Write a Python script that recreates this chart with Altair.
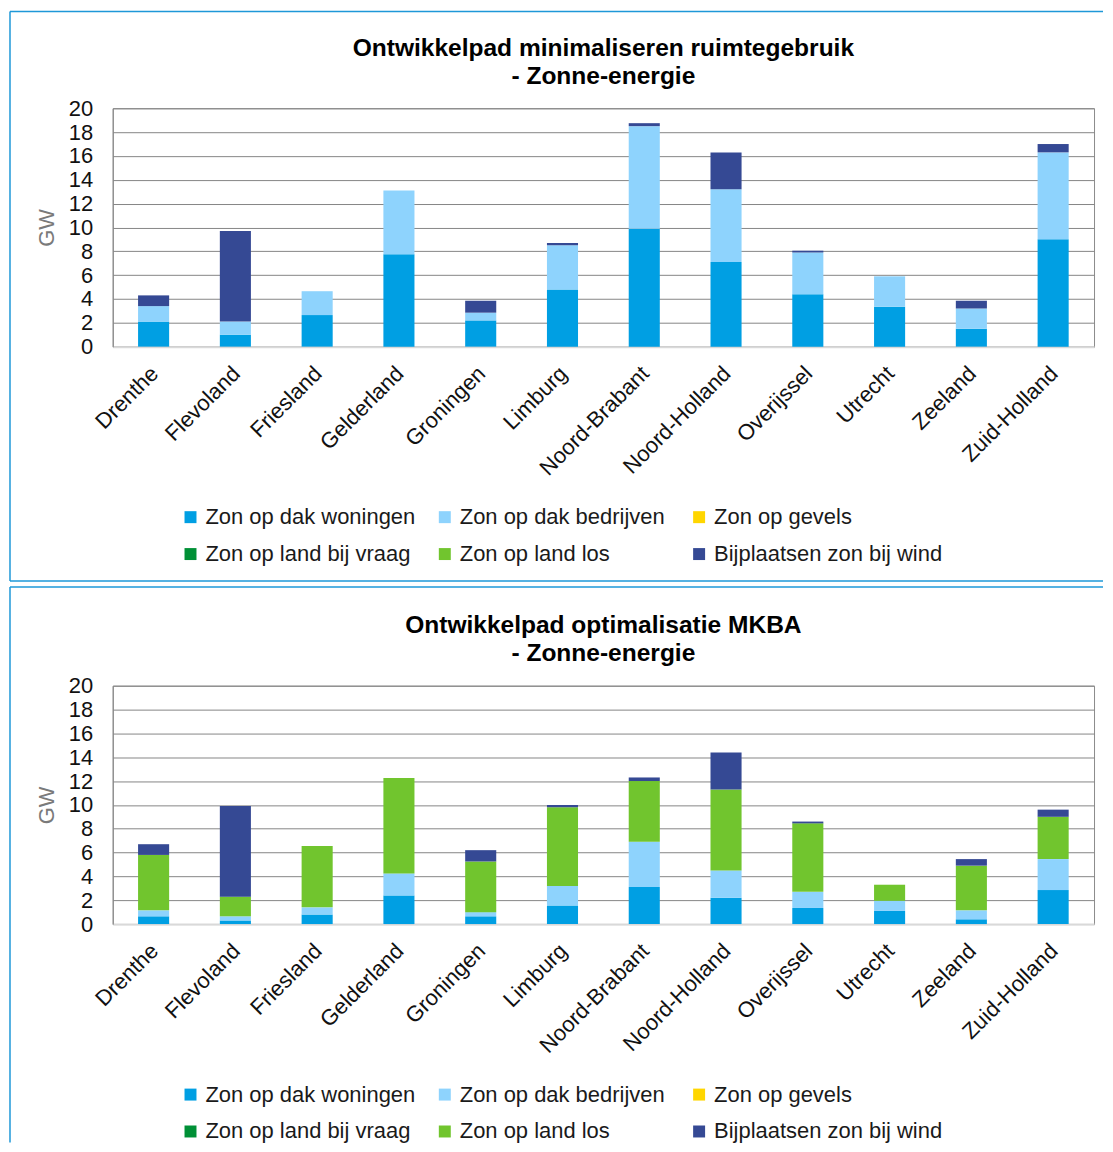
import altair as alt
import pandas as pd

provinces = ["Drenthe", "Flevoland", "Friesland", "Gelderland", "Groningen", "Limburg",
             "Noord-Brabant", "Noord-Holland", "Overijssel", "Utrecht", "Zeeland", "Zuid-Holland"]

series = ["Zon op dak woningen", "Zon op dak bedrijven", "Zon op gevels",
          "Zon op land bij vraag", "Zon op land los", "Bijplaatsen zon bij wind"]
colors = ["#009FE3", "#8ED3FD", "#FFD600", "#009036", "#71C52E", "#354994"]

y_ticks = [0, 2, 4, 6, 8, 10, 12, 14, 16, 18, 20]

# Panel 1: Ontwikkelpad minimaliseren ruimtegebruik (GW)
a_woningen = [2.1, 1.0, 2.65, 7.75, 2.2, 4.8, 9.9, 7.1, 4.4, 3.35, 1.5, 9.0]
a_bedrijven = [1.3, 1.1, 2.0, 5.35, 0.65, 3.7, 8.6, 6.1, 3.5, 2.55, 1.7, 7.3]
a_gevels = [0, 0, 0, 0, 0, 0, 0, 0, 0, 0, 0, 0]
a_vraag = [0, 0, 0, 0, 0, 0, 0, 0, 0, 0, 0, 0]
a_los = [0, 0, 0, 0, 0, 0, 0, 0, 0, 0, 0, 0]
a_wind = [0.9, 7.6, 0, 0, 1.0, 0.2, 0.25, 3.1, 0.15, 0, 0.65, 0.7]

# Panel 2: Ontwikkelpad optimalisatie MKBA (GW)
b_woningen = [0.65, 0.3, 0.8, 2.4, 0.65, 1.55, 3.1, 2.2, 1.35, 1.1, 0.4, 2.85]
b_bedrijven = [0.5, 0.35, 0.6, 1.85, 0.35, 1.65, 3.8, 2.3, 1.35, 0.85, 0.75, 2.6]
b_gevels = [0, 0, 0, 0, 0, 0, 0, 0, 0, 0, 0, 0]
b_vraag = [0, 0, 0, 0, 0, 0, 0, 0, 0, 0, 0, 0]
b_los = [4.65, 1.65, 5.15, 8.0, 4.25, 6.6, 5.1, 6.8, 5.75, 1.35, 3.75, 3.55]
b_wind = [0.9, 7.6, 0, 0, 0.95, 0.2, 0.3, 3.1, 0.15, 0, 0.55, 0.6]

title_a = ["Ontwikkelpad minimaliseren ruimtegebruik", "- Zonne-energie"]
title_b = ["Ontwikkelpad optimalisatie MKBA", "- Zonne-energie"]

FONT = "Liberation Sans"
BORDER = "#1E98D8"
W, H = 984, 239


def long_table(cols):
    rows = []
    for k, (s, vals) in enumerate(zip(series, cols)):
        for p, v in zip(provinces, vals):
            rows.append({"prov": p, "serie": s, "gw": v, "k": k})
    return pd.DataFrame(rows)


def panel(df, title, first):
    top_y = -97 if first else -99
    bars = alt.Chart(df).mark_bar(strokeWidth=0).encode(
        x=alt.X("prov:N", sort=provinces,
                scale=alt.Scale(paddingInner=0.62, paddingOuter=0.31),
                axis=alt.Axis(title=None, labelAngle=-45, labelAlign="right",
                              labelBaseline="middle", labelFontSize=22, labelFont=FONT,
                              labelColor="#111111", labelPadding=23, labelOffset=1,
                              ticks=False, tickSize=0, domainColor="#D9D9D9",
                              domainWidth=2, grid=False)),
        y=alt.Y("gw:Q", stack="zero",
                scale=alt.Scale(domain=[0, 20], nice=False),
                axis=alt.Axis(title="GW", values=y_ticks, labelFontSize=22, labelFont=FONT,
                              labelColor="#111111", labelPadding=20, ticks=False, tickSize=0,
                              domainColor="#868686", gridColor="#868686", gridWidth=1,
                              titleFont=FONT, titleFontSize=22, titleFontWeight="normal",
                              titleColor="#7A7A7A", titlePadding=10)),
        color=alt.Color("serie:N", scale=alt.Scale(domain=series, range=colors),
                        legend=alt.Legend(title=None, orient="none", legendX=67, legendY=399,
                                          columns=3, direction="horizontal", gridAlign="all",
                                          symbolType="square", symbolSize=144,
                                          symbolStrokeWidth=0, labelFontSize=22,
                                          labelFont=FONT, labelColor="#1A1A1A",
                                          labelOffset=4, columnPadding=0, rowPadding=15,
                                          padding=0, labelLimit=400)),
        order=alt.Order("k:Q", sort="ascending"),
    )
    frame = alt.Data(values=[{"f": 1}])
    left = alt.Chart(frame).mark_rule(color=BORDER, strokeWidth=1.5).encode(
        x=alt.value(-103), y=alt.value(top_y), y2=alt.value(474 if first else 458))
    top = alt.Chart(frame).mark_rule(color=BORDER, strokeWidth=1.5).encode(
        x=alt.value(-103), x2=alt.value(993), y=alt.value(top_y))
    layers = [bars, left, top]
    if first:
        bot = alt.Chart(frame).mark_rule(color=BORDER, strokeWidth=1.5).encode(
            x=alt.value(-103), x2=alt.value(993), y=alt.value(474))
        layers.append(bot)
    return alt.layer(*layers).properties(
        width=W, height=H,
        title=alt.TitleParams(text=title, fontSize=24.6, font=FONT, fontWeight="bold",
                              color="#000000", anchor="middle", frame="group",
                              lineHeight=28, offset=-78.75 if first else -80.75),
    )


cols_a = [a_woningen, a_bedrijven, a_gevels, a_vraag, a_los, a_wind]
cols_b = [b_woningen, b_bedrijven, b_gevels, b_vraag, b_los, b_wind]

chart = alt.vconcat(
    panel(long_table(cols_a), title_a, True),
    panel(long_table(cols_b), title_b, False),
    spacing=2,
).resolve_scale(color="independent").properties(
    padding=0
).configure_view(stroke="#8C8C8C", strokeWidth=1)

chart.save("out.html", embed_options={"renderer": "svg", "actions": False})
